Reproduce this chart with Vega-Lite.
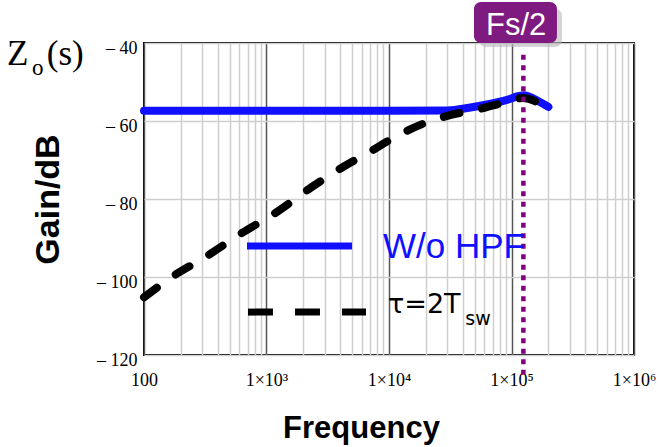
{
  "$schema": "https://vega.github.io/schema/vega-lite/v6.json",
  "width": 490,
  "height": 312,
  "autosize": {"type": "none"},
  "padding": {"left": 144, "top": 43, "right": 29, "bottom": 92},
  "background": "white",
  "config": {
    "view": {"stroke": "black", "strokeWidth": 2},
    "text": {"font": "Liberation Sans"}
  },
  "datasets": {
    "woHpf": [
      {"f": 100, "g": -57.4},
      {"f": 1000, "g": -57.4},
      {"f": 10000, "g": -57.4},
      {"f": 30000, "g": -57.3},
      {"f": 45000, "g": -56.6},
      {"f": 60000, "g": -55.9},
      {"f": 92000, "g": -54.6},
      {"f": 115000, "g": -53.6},
      {"f": 128000, "g": -53.4},
      {"f": 150000, "g": -54.2},
      {"f": 200000, "g": -56.4}
    ],
    "tau2Tsw": [
      {"f": 100, "g": -105.2},
      {"f": 169, "g": -100.0},
      {"f": 327, "g": -94.6},
      {"f": 631, "g": -88.7},
      {"f": 1219, "g": -83.3},
      {"f": 2350, "g": -76.9},
      {"f": 4210, "g": -71.8},
      {"f": 6990, "g": -67.9},
      {"f": 11200, "g": -64.1},
      {"f": 19700, "g": -60.5},
      {"f": 31500, "g": -58.5},
      {"f": 55300, "g": -56.9},
      {"f": 91800, "g": -55.1},
      {"f": 124000, "g": -54.1},
      {"f": 200000, "g": -57.0}
    ]
  },
  "layer": [
    {
      "data": {"name": "woHpf"},
      "mark": {"type": "line", "color": "#1010ff", "strokeWidth": 8, "interpolate": "monotone", "strokeCap": "round"},
      "encoding": {
        "x": {
          "field": "f",
          "type": "quantitative",
          "scale": {"type": "log", "domain": [100, 1000000], "nice": false},
          "axis": {
            "title": "Frequency",
            "titleFont": "Liberation Sans",
            "titleFontWeight": "bold",
            "titleFontSize": 31,
            "titleColor": "black",
            "titleX": 217,
            "titleY": 82,
            "titleAlign": "center",
            "titleBaseline": "alphabetic",
            "domain": false,
            "ticks": false,
            "labelFont": "Liberation Serif",
            "labelFontSize": 18,
            "labelColor": "black",
            "labelPadding": 16,
            "labelFlush": false,
            "labelOverlap": false,
            "values": [100, 200, 300, 400, 500, 600, 700, 800, 900,
                       1000, 2000, 3000, 4000, 5000, 6000, 7000, 8000, 9000,
                       10000, 20000, 30000, 40000, 50000, 60000, 70000, 80000, 90000,
                       100000, 200000, 300000, 400000, 500000, 600000, 700000, 800000, 900000,
                       1000000],
            "labelExpr": "datum.value == 100 ? '100' : datum.value == 1000 ? '1×10³' : datum.value == 10000 ? '1×10⁴' : datum.value == 100000 ? '1×10⁵' : datum.value == 1000000 ? '1×10⁶' : ''",
            "grid": true,
            "gridColor": {
              "condition": {"test": "abs(log(datum.value) / LN10 - round(log(datum.value) / LN10)) < 0.000001", "value": "#555555"},
              "value": "#cfcfcf"
            },
            "gridWidth": 1.5
          }
        },
        "y": {
          "field": "g",
          "type": "quantitative",
          "scale": {"domain": [-120, -40], "nice": false, "zero": false},
          "axis": {
            "title": "Gain/dB",
            "titleFont": "Liberation Sans",
            "titleFontWeight": "bold",
            "titleFontSize": 34,
            "titleColor": "black",
            "titleAngle": -90,
            "titleX": -96,
            "titleY": 156,
            "titleAlign": "center",
            "titleBaseline": "middle",
            "domain": false,
            "ticks": false,
            "values": [-40, -60, -80, -100, -120],
            "labelExpr": "'– ' + abs(datum.value)",
            "labelFont": "Liberation Serif",
            "labelFontSize": 18,
            "labelColor": "black",
            "labelPadding": 7,
            "labelOffset": 5,
            "labelFlush": false,
            "grid": true,
            "gridColor": "#cfcfcf",
            "gridWidth": 1.5
          }
        }
      }
    },
    {
      "data": {"name": "tau2Tsw"},
      "mark": {"type": "line", "color": "black", "strokeWidth": 8, "interpolate": "monotone", "strokeDash": [16, 23], "strokeCap": "round"},
      "encoding": {
        "x": {"field": "f", "type": "quantitative"},
        "y": {"field": "g", "type": "quantitative"}
      }
    },
    {
      "data": {"values": [{"f": 125000}]},
      "mark": {"type": "rule", "color": "#800080", "strokeWidth": 4.5, "strokeDash": [5, 5.5]},
      "encoding": {
        "x": {"field": "f", "type": "quantitative"},
        "y": {"datum": -43, "type": "quantitative"},
        "y2": {"datum": -126}
      }
    },
    {
      "data": {"values": [{"label": "Fs/2"}]},
      "layer": [
        {
          "mark": {"type": "rect", "color": "#b8b8b8", "opacity": 0.6, "cornerRadius": 7},
          "encoding": {
            "x": {"datum": 54300, "type": "quantitative"},
            "x2": {"datum": 258000},
            "y": {"datum": -31.2, "type": "quantitative"},
            "y2": {"datum": -41.0}
          }
        },
        {
          "mark": {"type": "rect", "color": "#7e1a80", "cornerRadius": 7},
          "encoding": {
            "x": {"datum": 49400, "type": "quantitative"},
            "x2": {"datum": 235000},
            "y": {"datum": -29.5, "type": "quantitative"},
            "y2": {"datum": -40}
          }
        },
        {
          "mark": {"type": "text", "color": "white", "fontSize": 31, "align": "center", "baseline": "alphabetic"},
          "encoding": {
            "x": {"datum": 109000, "type": "quantitative"},
            "y": {"datum": -37.9, "type": "quantitative"},
            "text": {"field": "label"}
          }
        }
      ]
    },
    {
      "data": {"values": [{"f": 693, "g": -92.05}, {"f": 4990, "g": -92.05}]},
      "mark": {"type": "line", "color": "#1010ff", "strokeWidth": 7},
      "encoding": {
        "x": {"field": "f", "type": "quantitative"},
        "y": {"field": "g", "type": "quantitative"}
      }
    },
    {
      "data": {"values": [{"f": 706, "g": -109}, {"f": 6490, "g": -109}]},
      "mark": {"type": "line", "color": "black", "strokeWidth": 7, "strokeDash": [25, 22]},
      "encoding": {
        "x": {"field": "f", "type": "quantitative"},
        "y": {"field": "g", "type": "quantitative"}
      }
    },
    {
      "data": {"values": [{"f": 8935, "g": -95.1, "t": "W/o HPF"}]},
      "mark": {"type": "text", "color": "#1010ff", "fontSize": 35, "align": "left", "baseline": "alphabetic"},
      "encoding": {
        "x": {"field": "f", "type": "quantitative"},
        "y": {"field": "g", "type": "quantitative"},
        "text": {"field": "t"}
      }
    },
    {
      "data": {"values": [{"f": 9820, "g": -109.2, "t": "τ=2T"}]},
      "mark": {"type": "text", "color": "black", "font": "DejaVu Sans", "fontSize": 27, "align": "left", "baseline": "alphabetic"},
      "encoding": {
        "x": {"field": "f", "type": "quantitative"},
        "y": {"field": "g", "type": "quantitative"},
        "text": {"field": "t"}
      }
    },
    {
      "data": {"values": [{"f": 42000, "g": -112.3, "t": "sw"}]},
      "mark": {"type": "text", "color": "black", "font": "DejaVu Sans", "fontSize": 19, "align": "left", "baseline": "alphabetic"},
      "encoding": {
        "x": {"field": "f", "type": "quantitative"},
        "y": {"field": "g", "type": "quantitative"},
        "text": {"field": "t"}
      }
    },
    {
      "data": {"values": [
        {"f": 7.62, "g": -45.6, "t": "Z"},
        {"f": 16.1, "g": -45.6, "t": "(s)"}
      ]},
      "mark": {"type": "text", "color": "black", "font": "Liberation Serif", "fontSize": 35, "align": "left", "baseline": "alphabetic"},
      "encoding": {
        "x": {"field": "f", "type": "quantitative"},
        "y": {"field": "g", "type": "quantitative"},
        "text": {"field": "t"}
      }
    },
    {
      "data": {"values": [{"f": 12.2, "g": -48.2, "t": "o"}]},
      "mark": {"type": "text", "color": "black", "font": "Liberation Serif", "fontSize": 23, "align": "left", "baseline": "alphabetic"},
      "encoding": {
        "x": {"field": "f", "type": "quantitative"},
        "y": {"field": "g", "type": "quantitative"},
        "text": {"field": "t"}
      }
    }
  ]
}
